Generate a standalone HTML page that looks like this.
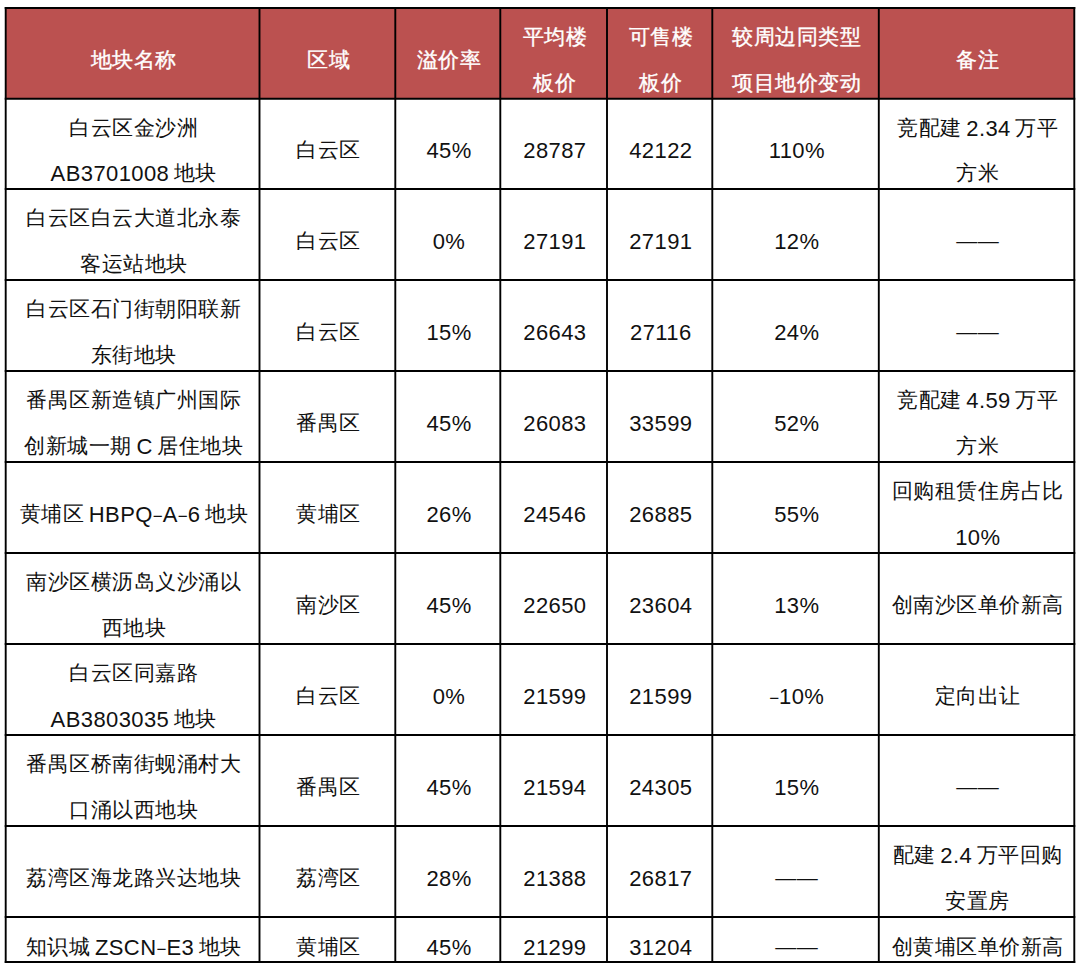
<!DOCTYPE html>
<html><head><meta charset="utf-8"><style>
html,body{margin:0;padding:0;background:#fff;}
body{width:1080px;height:967px;overflow:hidden;position:relative;font-family:"Liberation Sans",sans-serif;}
.c{position:absolute;display:flex;align-items:center;justify-content:center;text-align:center;font-size:21px;line-height:45.5px;letter-spacing:0.5px;word-spacing:-1.6px;color:#111;white-space:nowrap;}
.h{color:#fff;-webkit-text-stroke:0.35px #fff;}
.m{font-size:17px;letter-spacing:0;line-height:0;}
.l{font-size:22px;letter-spacing:0.4px;position:relative;top:1px;line-height:0;}
svg{position:absolute;left:0;top:0;}
</style></head><body>

<div style="position:absolute;left:5.7px;top:8.0px;width:1068.6px;height:90.8px;background:#BB5150"></div>
<div class="c h" style="left:6.9px;top:14.3px;width:253.8px;height:90.8px"><div>地块名称</div></div>
<div class="c h" style="left:260.7px;top:14.3px;width:135.8px;height:90.8px"><div>区域</div></div>
<div class="c h" style="left:396.5px;top:14.3px;width:105.0px;height:90.8px"><div>溢价率</div></div>
<div class="c h" style="left:501.5px;top:14.3px;width:106.7px;height:90.8px"><div>平均楼<br>板价</div></div>
<div class="c h" style="left:608.2px;top:14.3px;width:105.3px;height:90.8px"><div>可售楼<br>板价</div></div>
<div class="c h" style="left:713.5px;top:14.3px;width:166.5px;height:90.8px"><div>较周边同类型<br>项目地价变动</div></div>
<div class="c h" style="left:880.0px;top:14.3px;width:195.5px;height:90.8px"><div>备注</div></div>
<div class="c" style="left:6.9px;top:105.1px;width:253.8px;height:90.2px"><div>白云区金沙洲<br><span class="l">AB3701008</span> 地块</div></div>
<div class="c" style="left:260.7px;top:105.1px;width:135.8px;height:90.2px"><div>白云区</div></div>
<div class="c" style="left:396.5px;top:105.1px;width:105.0px;height:90.2px"><div><span class="l">45%</span></div></div>
<div class="c" style="left:501.5px;top:105.1px;width:106.7px;height:90.2px"><div><span class="l">28787</span></div></div>
<div class="c" style="left:608.2px;top:105.1px;width:105.3px;height:90.2px"><div><span class="l">42122</span></div></div>
<div class="c" style="left:713.5px;top:105.1px;width:166.5px;height:90.2px"><div><span class="l">110%</span></div></div>
<div class="c" style="left:880.0px;top:105.1px;width:195.5px;height:90.2px"><div>竞配建 <span class="l">2.34</span> 万平<br>方米</div></div>
<div class="c" style="left:6.9px;top:195.3px;width:253.8px;height:91.0px"><div>白云区白云大道北永泰<br>客运站地块</div></div>
<div class="c" style="left:260.7px;top:195.3px;width:135.8px;height:91.0px"><div>白云区</div></div>
<div class="c" style="left:396.5px;top:195.3px;width:105.0px;height:91.0px"><div><span class="l">0%</span></div></div>
<div class="c" style="left:501.5px;top:195.3px;width:106.7px;height:91.0px"><div><span class="l">27191</span></div></div>
<div class="c" style="left:608.2px;top:195.3px;width:105.3px;height:91.0px"><div><span class="l">27191</span></div></div>
<div class="c" style="left:713.5px;top:195.3px;width:166.5px;height:91.0px"><div><span class="l">12%</span></div></div>
<div class="c" style="left:880.0px;top:195.3px;width:195.5px;height:91.0px"><div>——</div></div>
<div class="c" style="left:6.9px;top:286.3px;width:253.8px;height:91.0px"><div>白云区石门街朝阳联新<br>东街地块</div></div>
<div class="c" style="left:260.7px;top:286.3px;width:135.8px;height:91.0px"><div>白云区</div></div>
<div class="c" style="left:396.5px;top:286.3px;width:105.0px;height:91.0px"><div><span class="l">15%</span></div></div>
<div class="c" style="left:501.5px;top:286.3px;width:106.7px;height:91.0px"><div><span class="l">26643</span></div></div>
<div class="c" style="left:608.2px;top:286.3px;width:105.3px;height:91.0px"><div><span class="l">27116</span></div></div>
<div class="c" style="left:713.5px;top:286.3px;width:166.5px;height:91.0px"><div><span class="l">24%</span></div></div>
<div class="c" style="left:880.0px;top:286.3px;width:195.5px;height:91.0px"><div>——</div></div>
<div class="c" style="left:6.9px;top:377.3px;width:253.8px;height:91.0px"><div>番禺区新造镇广州国际<br>创新城一期 <span class="l">C</span> 居住地块</div></div>
<div class="c" style="left:260.7px;top:377.3px;width:135.8px;height:91.0px"><div>番禺区</div></div>
<div class="c" style="left:396.5px;top:377.3px;width:105.0px;height:91.0px"><div><span class="l">45%</span></div></div>
<div class="c" style="left:501.5px;top:377.3px;width:106.7px;height:91.0px"><div><span class="l">26083</span></div></div>
<div class="c" style="left:608.2px;top:377.3px;width:105.3px;height:91.0px"><div><span class="l">33599</span></div></div>
<div class="c" style="left:713.5px;top:377.3px;width:166.5px;height:91.0px"><div><span class="l">52%</span></div></div>
<div class="c" style="left:880.0px;top:377.3px;width:195.5px;height:91.0px"><div>竞配建 <span class="l">4.59</span> 万平<br>方米</div></div>
<div class="c" style="left:6.9px;top:468.3px;width:253.8px;height:91.0px"><div>黄埔区 <span class="l">HBPQ<span class="m">&#8722;</span>A<span class="m">&#8722;</span>6</span> 地块</div></div>
<div class="c" style="left:260.7px;top:468.3px;width:135.8px;height:91.0px"><div>黄埔区</div></div>
<div class="c" style="left:396.5px;top:468.3px;width:105.0px;height:91.0px"><div><span class="l">26%</span></div></div>
<div class="c" style="left:501.5px;top:468.3px;width:106.7px;height:91.0px"><div><span class="l">24546</span></div></div>
<div class="c" style="left:608.2px;top:468.3px;width:105.3px;height:91.0px"><div><span class="l">26885</span></div></div>
<div class="c" style="left:713.5px;top:468.3px;width:166.5px;height:91.0px"><div><span class="l">55%</span></div></div>
<div class="c" style="left:880.0px;top:468.3px;width:195.5px;height:91.0px"><div>回购租赁住房占比<br><span class="l">10%</span></div></div>
<div class="c" style="left:6.9px;top:559.3px;width:253.8px;height:91.0px"><div>南沙区横沥岛义沙涌以<br>西地块</div></div>
<div class="c" style="left:260.7px;top:559.3px;width:135.8px;height:91.0px"><div>南沙区</div></div>
<div class="c" style="left:396.5px;top:559.3px;width:105.0px;height:91.0px"><div><span class="l">45%</span></div></div>
<div class="c" style="left:501.5px;top:559.3px;width:106.7px;height:91.0px"><div><span class="l">22650</span></div></div>
<div class="c" style="left:608.2px;top:559.3px;width:105.3px;height:91.0px"><div><span class="l">23604</span></div></div>
<div class="c" style="left:713.5px;top:559.3px;width:166.5px;height:91.0px"><div><span class="l">13%</span></div></div>
<div class="c" style="left:880.0px;top:559.3px;width:195.5px;height:91.0px"><div>创南沙区单价新高</div></div>
<div class="c" style="left:6.9px;top:650.3px;width:253.8px;height:91.0px"><div>白云区同嘉路<br><span class="l">AB3803035</span> 地块</div></div>
<div class="c" style="left:260.7px;top:650.3px;width:135.8px;height:91.0px"><div>白云区</div></div>
<div class="c" style="left:396.5px;top:650.3px;width:105.0px;height:91.0px"><div><span class="l">0%</span></div></div>
<div class="c" style="left:501.5px;top:650.3px;width:106.7px;height:91.0px"><div><span class="l">21599</span></div></div>
<div class="c" style="left:608.2px;top:650.3px;width:105.3px;height:91.0px"><div><span class="l">21599</span></div></div>
<div class="c" style="left:713.5px;top:650.3px;width:166.5px;height:91.0px"><div><span class="l"><span class="m">&#8722;</span>10%</span></div></div>
<div class="c" style="left:880.0px;top:650.3px;width:195.5px;height:91.0px"><div>定向出让</div></div>
<div class="c" style="left:6.9px;top:741.3px;width:253.8px;height:91.0px"><div>番禺区桥南街蚬涌村大<br>口涌以西地块</div></div>
<div class="c" style="left:260.7px;top:741.3px;width:135.8px;height:91.0px"><div>番禺区</div></div>
<div class="c" style="left:396.5px;top:741.3px;width:105.0px;height:91.0px"><div><span class="l">45%</span></div></div>
<div class="c" style="left:501.5px;top:741.3px;width:106.7px;height:91.0px"><div><span class="l">21594</span></div></div>
<div class="c" style="left:608.2px;top:741.3px;width:105.3px;height:91.0px"><div><span class="l">24305</span></div></div>
<div class="c" style="left:713.5px;top:741.3px;width:166.5px;height:91.0px"><div><span class="l">15%</span></div></div>
<div class="c" style="left:880.0px;top:741.3px;width:195.5px;height:91.0px"><div>——</div></div>
<div class="c" style="left:6.9px;top:832.3px;width:253.8px;height:91.0px"><div>荔湾区海龙路兴达地块</div></div>
<div class="c" style="left:260.7px;top:832.3px;width:135.8px;height:91.0px"><div>荔湾区</div></div>
<div class="c" style="left:396.5px;top:832.3px;width:105.0px;height:91.0px"><div><span class="l">28%</span></div></div>
<div class="c" style="left:501.5px;top:832.3px;width:106.7px;height:91.0px"><div><span class="l">21388</span></div></div>
<div class="c" style="left:608.2px;top:832.3px;width:105.3px;height:91.0px"><div><span class="l">26817</span></div></div>
<div class="c" style="left:713.5px;top:832.3px;width:166.5px;height:91.0px"><div>——</div></div>
<div class="c" style="left:880.0px;top:832.3px;width:195.5px;height:91.0px"><div>配建 <span class="l">2.4</span> 万平回购<br>安置房</div></div>
<div class="c" style="left:6.9px;top:924.5px;width:253.8px;height:45.0px"><div>知识城 <span class="l">ZSCN<span class="m">&#8722;</span>E3</span> 地块</div></div>
<div class="c" style="left:260.7px;top:924.5px;width:135.8px;height:45.0px"><div>黄埔区</div></div>
<div class="c" style="left:396.5px;top:924.5px;width:105.0px;height:45.0px"><div><span class="l">45%</span></div></div>
<div class="c" style="left:501.5px;top:924.5px;width:106.7px;height:45.0px"><div><span class="l">21299</span></div></div>
<div class="c" style="left:608.2px;top:924.5px;width:105.3px;height:45.0px"><div><span class="l">31204</span></div></div>
<div class="c" style="left:713.5px;top:924.5px;width:166.5px;height:45.0px"><div>——</div></div>
<div class="c" style="left:880.0px;top:924.5px;width:195.5px;height:45.0px"><div>创黄埔区单价新高</div></div>
<svg width="1080" height="967" viewBox="0 0 1080 967">
<line x1="5.7" y1="7.05" x2="5.7" y2="962.95" stroke="#000" stroke-width="1.9"/>
<line x1="259.5" y1="7.05" x2="259.5" y2="962.95" stroke="#000" stroke-width="1.9"/>
<line x1="395.3" y1="7.05" x2="395.3" y2="962.95" stroke="#000" stroke-width="1.9"/>
<line x1="500.3" y1="7.05" x2="500.3" y2="962.95" stroke="#000" stroke-width="1.9"/>
<line x1="607.0" y1="7.05" x2="607.0" y2="962.95" stroke="#000" stroke-width="1.9"/>
<line x1="712.3" y1="7.05" x2="712.3" y2="962.95" stroke="#000" stroke-width="1.9"/>
<line x1="878.8" y1="7.05" x2="878.8" y2="962.95" stroke="#000" stroke-width="1.9"/>
<line x1="1074.3" y1="7.05" x2="1074.3" y2="962.95" stroke="#000" stroke-width="1.9"/>
<line x1="4.75" y1="8.0" x2="1075.25" y2="8.0" stroke="#000" stroke-width="1.9"/>
<line x1="4.75" y1="98.8" x2="1075.25" y2="98.8" stroke="#000" stroke-width="1.9"/>
<line x1="4.75" y1="189.0" x2="1075.25" y2="189.0" stroke="#000" stroke-width="1.9"/>
<line x1="4.75" y1="280.0" x2="1075.25" y2="280.0" stroke="#000" stroke-width="1.9"/>
<line x1="4.75" y1="371.0" x2="1075.25" y2="371.0" stroke="#000" stroke-width="1.9"/>
<line x1="4.75" y1="462.0" x2="1075.25" y2="462.0" stroke="#000" stroke-width="1.9"/>
<line x1="4.75" y1="553.0" x2="1075.25" y2="553.0" stroke="#000" stroke-width="1.9"/>
<line x1="4.75" y1="644.0" x2="1075.25" y2="644.0" stroke="#000" stroke-width="1.9"/>
<line x1="4.75" y1="735.0" x2="1075.25" y2="735.0" stroke="#000" stroke-width="1.9"/>
<line x1="4.75" y1="826.0" x2="1075.25" y2="826.0" stroke="#000" stroke-width="1.9"/>
<line x1="4.75" y1="917.0" x2="1075.25" y2="917.0" stroke="#000" stroke-width="1.9"/>
<line x1="4.75" y1="962.0" x2="1075.25" y2="962.0" stroke="#000" stroke-width="1.9"/>
</svg>
</body></html>
